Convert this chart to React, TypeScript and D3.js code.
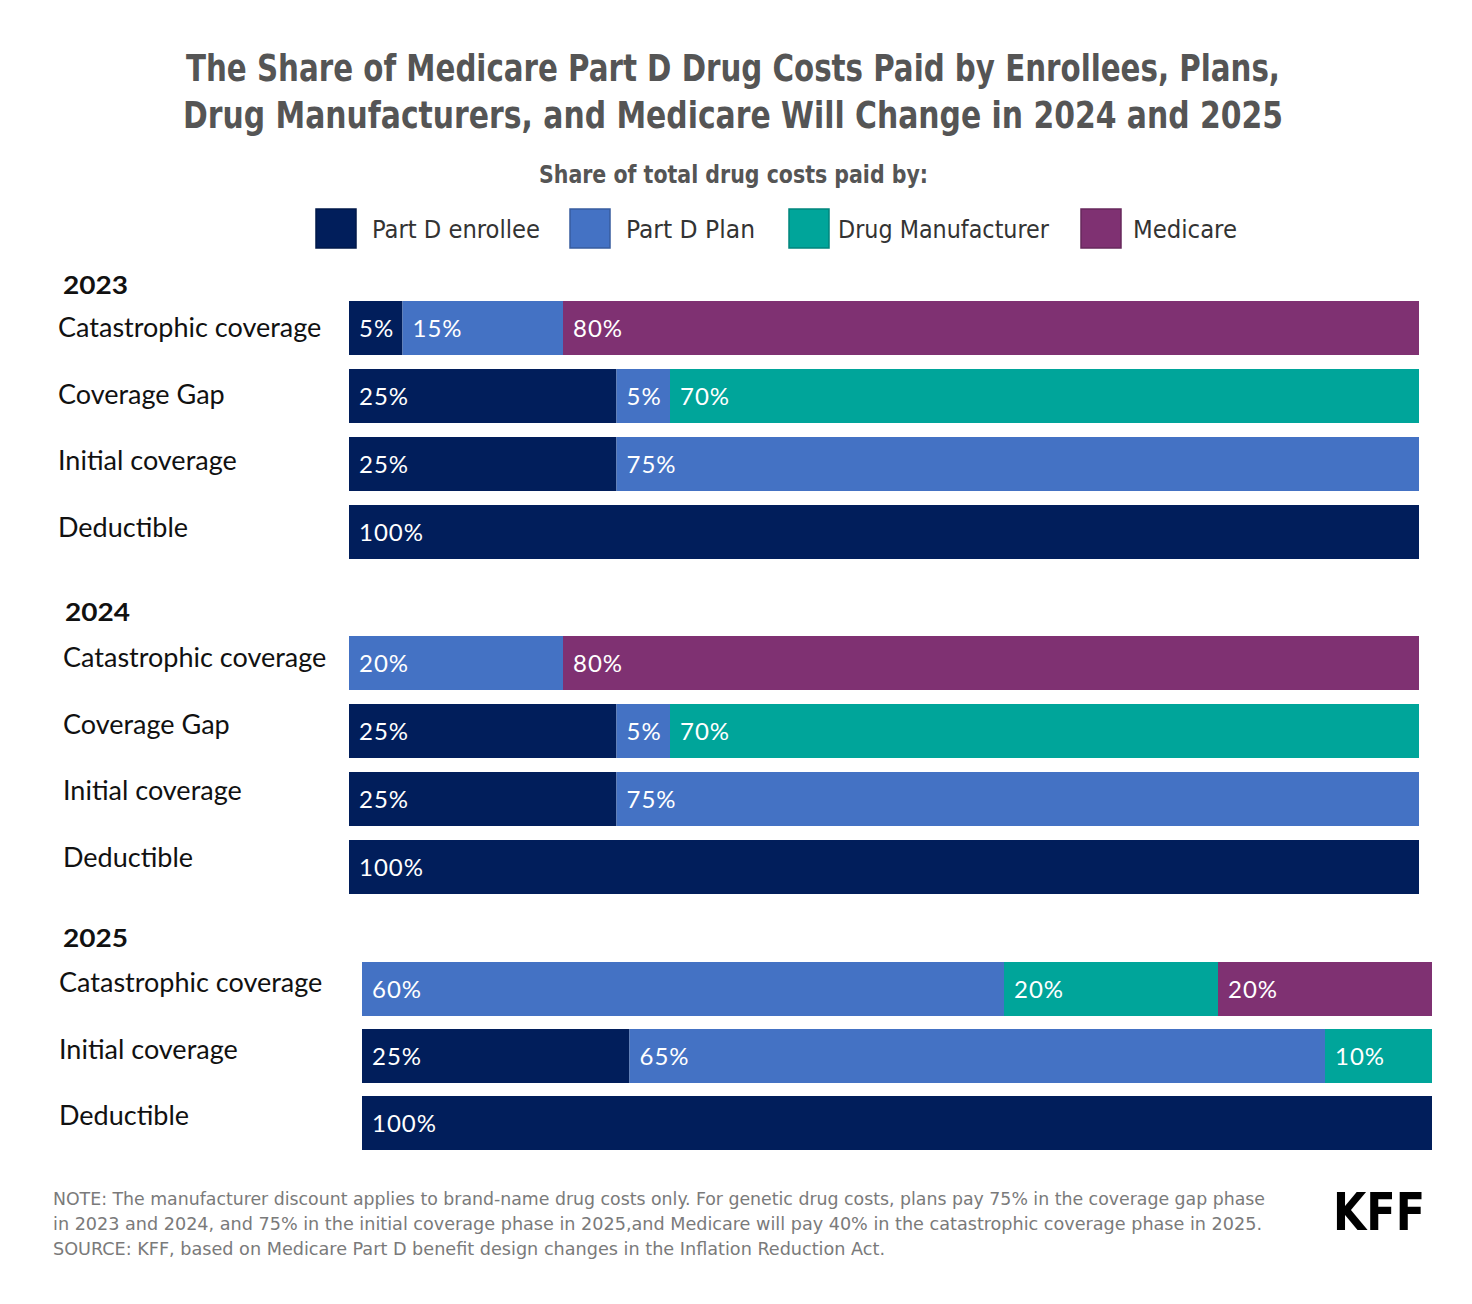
import React from "react";
import * as d3 from "d3";

// Payers (stack order, left to right)
const payers = ["Part D enrollee", "Part D Plan", "Drug Manufacturer", "Medicare"];
const payerKeys = ["enrollee", "plan", "manufacturer", "medicare"];
const payerColors = ["#011e5b", "#4472c4", "#00a59a", "#7f3172"];

const years = ["2023", "2024", "2025"];

const phases2023 = ["Catastrophic coverage", "Coverage Gap", "Initial coverage", "Deductible"];
const enrollee2023 = [5, 25, 25, 100];
const plan2023 = [15, 5, 75, 0];
const manufacturer2023 = [0, 70, 0, 0];
const medicare2023 = [80, 0, 0, 0];

const phases2024 = ["Catastrophic coverage", "Coverage Gap", "Initial coverage", "Deductible"];
const enrollee2024 = [0, 25, 25, 100];
const plan2024 = [20, 5, 75, 0];
const manufacturer2024 = [0, 70, 0, 0];
const medicare2024 = [80, 0, 0, 0];

const phases2025 = ["Catastrophic coverage", "Initial coverage", "Deductible"];
const enrollee2025 = [0, 25, 100];
const plan2025 = [60, 65, 0];
const manufacturer2025 = [20, 10, 0];
const medicare2025 = [20, 0, 0];

const noteLines = [
  "NOTE: The manufacturer discount applies to brand-name drug costs only. For genetic drug costs, plans pay 75% in the coverage gap phase",
  "in 2023 and 2024, and 75% in the initial coverage phase in 2025,and Medicare will pay 40% in the catastrophic coverage phase in 2025.",
  "SOURCE: KFF, based on Medicare Part D benefit design  changes in the Inflation Reduction Act.",
];

const WIDTH = 1472;
const HEIGHT = 1304;
const labelFont = "Lato, 'Noto Sans', sans-serif";
const condFont = "'DejaVu Sans', sans-serif";

function buildRows(phases: string[], e: number[], p: number[], m: number[], c: number[]) {
  return phases.map((phase, i) => ({
    phase,
    enrollee: e[i],
    plan: p[i],
    manufacturer: m[i],
    medicare: c[i],
  }));
}

const sections = [
  {
    year: years[0],
    rows: buildRows(phases2023, enrollee2023, plan2023, manufacturer2023, medicare2023),
    yearPos: [63, 293.5],
    labelX: 58,
    labelY: 337,
    barX: 349,
    top: 301,
    step: 68,
  },
  {
    year: years[1],
    rows: buildRows(phases2024, enrollee2024, plan2024, manufacturer2024, medicare2024),
    yearPos: [65, 621],
    labelX: 63,
    labelY: 667,
    barX: 349,
    top: 636,
    step: 68,
  },
  {
    year: years[2],
    rows: buildRows(phases2025, enrollee2025, plan2025, manufacturer2025, medicare2025),
    yearPos: [63, 946.5],
    labelX: 59,
    labelY: 992,
    barX: 362,
    top: 962,
    step: 67,
  },
];

const BAR_W = 1070;
const BAR_H = 54;
const LABEL_STEP = 66.7;

const legendX = [316, 570, 789, 1081];
const legendTextX = [372, 626, 838, 1133];
const legendTextW = [168, 129, 211, 104];

const Section: React.FC<{ s: (typeof sections)[number] }> = ({ s }) => {
  const x = d3.scaleLinear().domain([0, 100]).range([s.barX, s.barX + BAR_W]);
  const n = s.rows.length;
  const pad = (s.step - BAR_H) / s.step;
  const y = d3
    .scaleBand<string>()
    .domain(s.rows.map((r) => r.phase))
    .range([s.top, s.top + s.step * n - (s.step - BAR_H)])
    .paddingInner(pad)
    .paddingOuter(0);
  const stacked = d3.stack<any>().keys(payerKeys)(s.rows);

  return (
    <g>
      <text
        x={s.yearPos[0]}
        y={s.yearPos[1]}
        fontFamily={labelFont}
        fontWeight={700}
        fontSize={24}
        textLength={65}
        lengthAdjust="spacingAndGlyphs"
        fill="#111"
      >
        {s.year}
      </text>
      {s.rows.map((r, i) => (
        <text
          key={r.phase}
          x={s.labelX}
          y={s.labelY + i * LABEL_STEP}
          fontFamily={labelFont}
          fontSize={27}
          fill="#111"
        >
          {r.phase}
        </text>
      ))}
      {stacked.map((layer, li) => (
        <g key={payerKeys[li]}>
          {layer.map((d, ri) => {
            const v = d[1] - d[0];
            if (v <= 0) return null;
            const y0 = y(s.rows[ri].phase) as number;
            return (
              <g key={ri}>
                <rect
                  x={x(d[0])}
                  y={y0}
                  width={x(d[1]) - x(d[0])}
                  height={BAR_H}
                  fill={payerColors[li]}
                />
                <text
                  x={x(d[0]) + 10}
                  y={y0 + BAR_H / 2 + 9}
                  fontFamily={labelFont}
                  fontSize={24}
                  letterSpacing={1}
                  fill="#fff"
                >
                  {`${v}%`}
                </text>
              </g>
            );
          })}
        </g>
      ))}
    </g>
  );
};

export default function App() {
  return (
    <div style={{ position: "absolute", left: 0, top: 0 }}>
      <svg width={WIDTH} height={HEIGHT} style={{ display: "block", background: "#fff" }}>
        <text
          x={186}
          y={81}
          fontFamily={condFont}
          fontWeight={700}
          fontStretch="condensed"
          fontSize={38}
          textLength={1094}
          lengthAdjust="spacingAndGlyphs"
          fill="#555"
        >
          The Share of Medicare Part D Drug Costs Paid by Enrollees, Plans,
        </text>
        <text
          x={183}
          y={128}
          fontFamily={condFont}
          fontWeight={700}
          fontStretch="condensed"
          fontSize={38}
          textLength={1100}
          lengthAdjust="spacingAndGlyphs"
          fill="#555"
        >
          Drug Manufacturers, and Medicare Will Change in 2024 and 2025
        </text>
        <text
          x={539}
          y={183}
          fontFamily={condFont}
          fontWeight={700}
          fontStretch="condensed"
          fontSize={25}
          textLength={389}
          lengthAdjust="spacingAndGlyphs"
          fill="#555"
        >
          Share of total drug costs paid by:
        </text>

        {payers.map((p, i) => (
          <g key={p}>
            <rect
              x={legendX[i]}
              y={209}
              width={40}
              height={39}
              fill={payerColors[i]}
              stroke={d3.color(payerColors[i])!.darker(0.6).toString()}
              strokeWidth={1.5}
            />
            <text
              x={legendTextX[i]}
              y={238}
              fontFamily={condFont}
              fontStretch="condensed"
              fontSize={24}
              textLength={legendTextW[i]}
              lengthAdjust="spacingAndGlyphs"
              fill="#333"
            >
              {p}
            </text>
          </g>
        ))}

        {sections.map((s) => (
          <Section key={s.year} s={s} />
        ))}

        {noteLines.map((line, i) => (
          <text
            key={i}
            x={53}
            y={1205 + i * 25}
            fontFamily={condFont}
            fontStretch="condensed"
            fontSize={18}
            textLength={[1212, 1209, 832][i]}
            lengthAdjust="spacingAndGlyphs"
            fill="#7a7a7a"
          >
            {line}
          </text>
        ))}
        <text
          x={1333}
          y={1230}
          fontFamily={condFont}
          fontWeight={700}
          fontStretch="condensed"
          fontSize={51}
          textLength={92}
          lengthAdjust="spacingAndGlyphs"
          fill="#000"
        >
          KFF
        </text>
      </svg>
    </div>
  );
}
